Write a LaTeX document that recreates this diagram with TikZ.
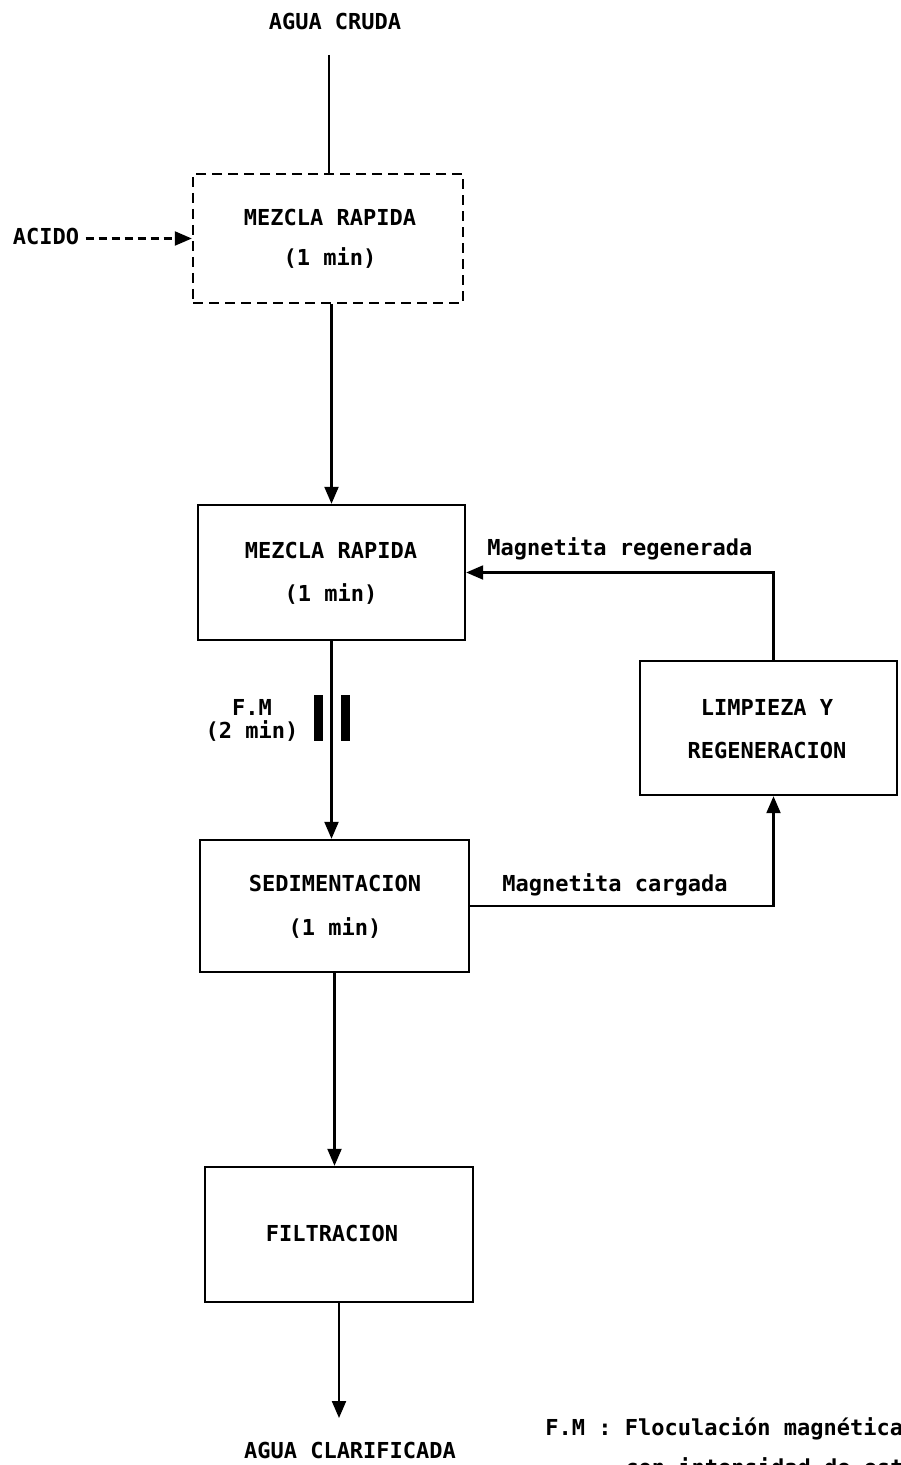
\documentclass[tikz,border=0pt]{standalone}
\usepackage{fontspec}
\setmonofont{DejaVu Sans Mono}
\usetikzlibrary{arrows.meta}
\begin{document}
\begin{tikzpicture}[x=0.5pt,y=-0.5pt,
  stepbox/.style={draw,line width=1.2pt,inner sep=0pt},
  lbl/.style={font=\ttfamily\bfseries\fontsize{11pt}{13pt}\selectfont,inner sep=0pt,anchor=base},
  link/.style={line width=1.1pt},
  flow/.style={line width=1.1pt,-{Triangle[length=8.5pt,width=7pt]}}]
\useasboundingbox (0,0) rectangle (900,1465);
\fill[white] (0,0) rectangle (900,1465);

% process boxes
\node[stepbox,dash pattern=on 5pt off 3pt,minimum width=135pt,minimum height=64.5pt] (b1) at (328,238.5) {};
\node[stepbox,minimum width=133.5pt,minimum height=67.5pt] (b2) at (331.5,572.5) {};
\node[stepbox,minimum width=134.5pt,minimum height=66pt] (b3) at (334.5,906) {};
\node[stepbox,minimum width=128.5pt,minimum height=67pt] (b4) at (768.5,728) {};
\node[stepbox,minimum width=134pt,minimum height=67.5pt] (b5) at (339,1234.5) {};

% texts
\node[lbl] (tin) at (335,30) {AGUA CRUDA};
\node[lbl] (t1a) at (330,226) {MEZCLA RAPIDA};
\node[lbl] (t1b) at (330,266) {(1 min)};
\node[lbl] (acido) at (46,245) {ACIDO};
\node[lbl] (t2a) at (331,558) {MEZCLA RAPIDA};
\node[lbl] (t2b) at (331,601) {(1 min)};
\node[lbl] (fm1) at (252,715) {F.M};
\node[lbl] (fm2) at (252,738) {(2 min)};
\node[lbl] (t3a) at (335,891) {SEDIMENTACION};
\node[lbl] (t3b) at (335,935) {(1 min)};
\node[lbl] (t4a) at (767,715) {LIMPIEZA Y};
\node[lbl] (t4b) at (767,758) {REGENERACION};
\node[lbl] (t5) at (332,1241) {FILTRACION};
\node[lbl] (tout) at (350,1458) {AGUA CLARIFICADA};
\node[lbl,anchor=base west] (mreg) at (487,555) {Magnetita regenerada};
\node[lbl,anchor=base west] (mcar) at (502,891) {Magnetita cargada};
\node[lbl,anchor=base west] (ley1) at (545,1435) {F.M : Floculación magnética};
\node[lbl,anchor=base west] (ley2) at (625,1475) {con intensidad de esta};

% connectors
\coordinate (src) at (329,55);
\coordinate (out) at (340,1418);
\draw[link] (src) -- (src |- b1.north);
\draw[flow,dash pattern=on 4pt off 2.5pt,shorten <=3pt] (acido.east |- b1.west) -- (b1.west);
\draw[flow] (b1.south -| b2.north) -- (b2.north);
\draw[flow] (b2.south) -- (b2.south |- b3.north);
\draw[flow] (b3.south) -- (b3.south |- b5.north);
\draw[flow] (b5.south) -- (b5.south |- out);
\draw[flow] (b3.east) -| ([xshift=2.5pt]b4.south);
\draw[flow] ([xshift=2.5pt]b4.north) |- (b2.east);

% magnetic flocculation marker
\fill (313.5,695) rectangle (322.5,741);
\fill (340.5,695) rectangle (349.5,741);
\end{tikzpicture}
\end{document}
